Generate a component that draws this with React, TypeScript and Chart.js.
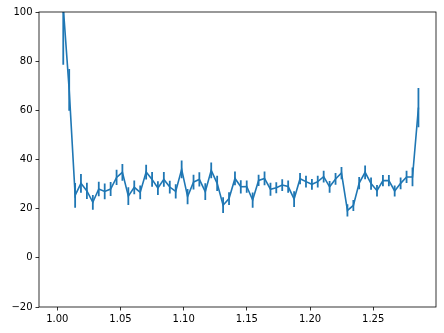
import React, { useEffect, useRef } from "react";
import { Chart, registerables } from "chart.js";

Chart.register(...registerables);

// x positions of the measurements
const xValues: number[] = [
  1.0, 1.0047, 1.0094, 1.0141, 1.0187, 1.0234, 1.0281, 1.0328, 1.0375, 1.0422,
  1.0469, 1.0515, 1.0562, 1.0609, 1.0656, 1.0703, 1.075, 1.0796, 1.0843, 1.089,
  1.0937, 1.0984, 1.1031, 1.1078, 1.1124, 1.1171, 1.1218, 1.1265, 1.1312, 1.1359,
  1.1406, 1.1452, 1.1499, 1.1546, 1.1593, 1.164, 1.1687, 1.1733, 1.178, 1.1827,
  1.1874, 1.1921, 1.1968, 1.2015, 1.2061, 1.2108, 1.2155, 1.2202, 1.2249, 1.2296,
  1.2343, 1.2389, 1.2436, 1.2483, 1.253, 1.2577, 1.2624, 1.267, 1.2717, 1.2764,
  1.2811, 1.2858,
];

// measured values
const yValues: number[] = [
  180, 102, 68.3, 25.4, 30.3, 27.2, 22.6, 28.0, 27.0, 28.0,
  32.7, 34.8, 25.1, 28.7, 26.6, 34.9, 31.9, 28.4, 31.9, 28.8,
  27.0, 36.0, 24.9, 30.8, 31.9, 26.9, 35.6, 30.3, 21.4, 24.1,
  32.3, 28.9, 29.0, 23.5, 31.5, 32.3, 27.9, 28.5, 29.6, 29.0,
  23.9, 32.2, 31.0, 29.9, 31.0, 33.0, 28.9, 32.1, 34.5, 19.3,
  21.3, 30.4, 34.8, 30.2, 27.3, 31.4, 31.4, 27.2, 30.3, 32.9,
  32.9, 61.1,
];

// symmetric errors
const yErrors: number[] = [
  30, 23.5, 8.5, 5.0, 3.8, 3.3, 3.0, 2.9, 3.2, 2.8,
  3.1, 3.4, 3.6, 2.8, 2.8, 3.0, 3.0, 2.8, 3.0, 2.6,
  2.9, 3.6, 3.1, 3.0, 2.9, 3.4, 3.2, 3.1, 3.2, 2.6,
  2.8, 2.7, 2.5, 3.1, 2.3, 2.8, 2.6, 2.2, 2.4, 2.5,
  3.2, 2.3, 2.4, 2.2, 2.4, 2.4, 2.4, 2.4, 2.5, 2.5,
  2.2, 2.5, 2.8, 2.5, 2.3, 2.3, 2.3, 2.2, 2.4, 2.5,
  3.8, 8.0,
];

const yTicks: number[] = [-20, 0, 20, 40, 60, 80, 100];

const BLUE = "#1f77b4";

const framePlugin = {
  id: "frame",
  afterDatasetsDraw(chart: any) {
    const { ctx, chartArea } = chart;
    ctx.save();
    ctx.strokeStyle = "#000";
    ctx.lineWidth = 0.8;
    ctx.strokeRect(
      chartArea.left,
      chartArea.top,
      chartArea.right - chartArea.left,
      chartArea.bottom - chartArea.top
    );
    ctx.restore();
  },
};

export default function App() {
  const ref = useRef<HTMLCanvasElement | null>(null);

  useEffect(() => {
    if (!ref.current) return;
    const lineData = xValues.map((x, i) => ({ x, y: yValues[i] }));
    const barData: any[] = [];
    xValues.forEach((x, i) => {
      barData.push({ x, y: yValues[i] - yErrors[i] });
      barData.push({ x, y: yValues[i] + yErrors[i] });
      barData.push({ x, y: null });
    });

    const chart = new Chart(ref.current, {
      type: "line",
      data: {
        datasets: [
          {
            data: lineData,
            borderColor: BLUE,
            borderWidth: 1.6,
            pointRadius: 0,
            fill: false,
            tension: 0,
            clip: 0,
          } as any,
          {
            data: barData,
            borderColor: BLUE,
            borderWidth: 1.8,
            borderCapStyle: "butt",
            pointRadius: 0,
            fill: false,
            spanGaps: false,
            tension: 0,
            clip: 0,
          } as any,
        ],
      },
      options: {
        animation: false,
        responsive: false,
        devicePixelRatio: 1,
        layout: { padding: { top: 12, right: 8, left: 0, bottom: 0 } },
        plugins: {
          legend: { display: false },
          tooltip: { enabled: false },
        },
        scales: {
          x: {
            type: "linear",
            min: 0.9855,
            max: 1.2997,
            afterFit: (s: any) => {
              s.height = 26;
            },
            border: { display: false },
            grid: {
              drawOnChartArea: false,
              drawTicks: true,
              tickLength: 3.5,
              color: "#000",
              lineWidth: 0.8,
            },
            ticks: {
              stepSize: 0.05,
              includeBounds: false,
              padding: 3,
              color: "#000",
              font: { family: "DejaVu Sans", size: 10 },
              maxRotation: 0,
              callback: (v: any) => Number(v).toFixed(2),
            },
          },
          y: {
            type: "linear",
            min: -20,
            max: 100,
            afterFit: (s: any) => {
              s.width = 39;
            },
            afterBuildTicks: (s: any) => {
              s.ticks = yTicks.map((v) => ({ value: v }));
            },
            border: { display: false },
            grid: {
              drawOnChartArea: false,
              drawTicks: true,
              tickLength: 3.5,
              color: "#000",
              lineWidth: 0.8,
            },
            ticks: {
              padding: 3,
              color: "#000",
              font: { family: "DejaVu Sans", size: 10 },
              callback: (v: any) => String(v).replace("-", "\u2212"),
            },
          },
        },
      },
      plugins: [framePlugin],
    });
    return () => chart.destroy();
  }, []);

  return (
    <div style={{ position: "fixed", left: 0, top: 0, width: 444, height: 333, background: "#fff" }}>
      <canvas ref={ref} width={444} height={333} style={{ width: 444, height: 333 }} />
    </div>
  );
}
